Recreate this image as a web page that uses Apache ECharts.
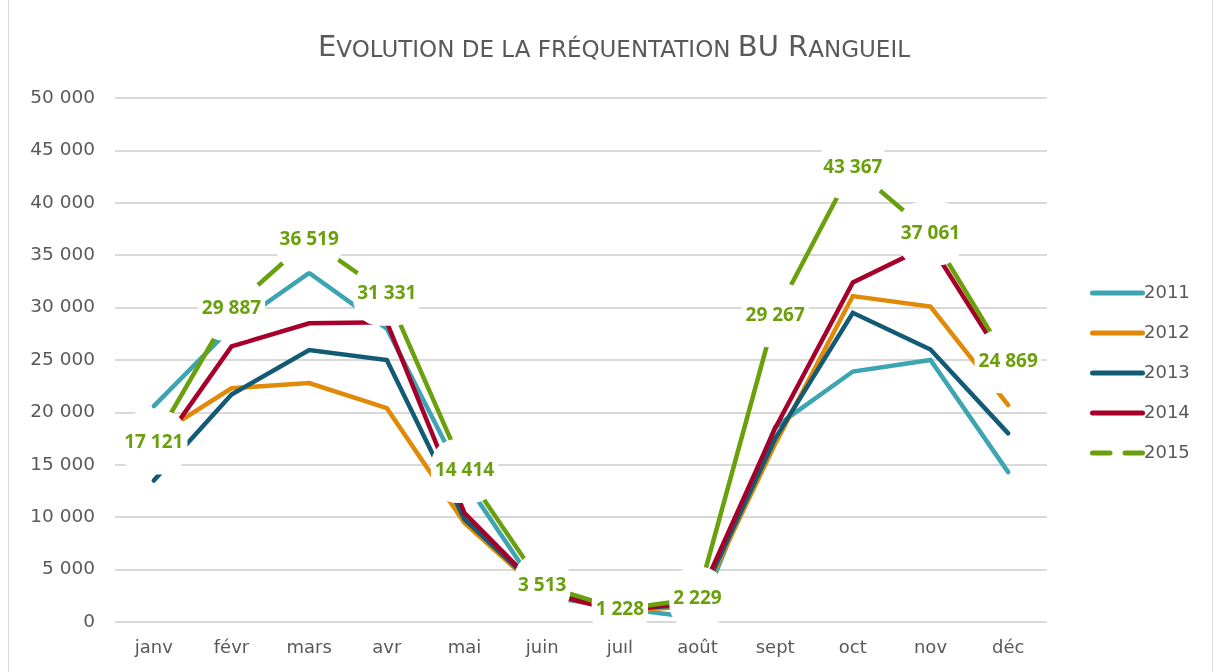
<!DOCTYPE html>
<html>
<head>
<meta charset="utf-8">
<script src="https://cdn.jsdelivr.net/npm/echarts@6/dist/echarts.min.js"></script>
<style>
html,body{margin:0;padding:0;background:#fff;}
#c{width:1218px;height:672px;}
</style>
</head>
<body>
<div id="c"></div>
<script>
const months = ['janv','févr','mars','avr','mai','juin','juil','août','sept','oct','nov','déc'];
const seriesNames = ['2011','2012','2013','2014','2015'];
const v2011 = [20600, 28100, 33300, 28000, 13500, 2500, 1300, 400, 18600, 23900, 25000, 14300];
const v2012 = [17600, 22300, 22800, 20400, 9450, 2800, 1100, 1500, 17000, 31100, 30100, 20700];
const v2013 = [13500, 21700, 25950, 25000, 9800, 2900, 1200, 1700, 17500, 29500, 26000, 18000];
const v2014 = [15800, 26300, 28500, 28600, 10400, 2900, 1000, 2000, 18500, 32400, 36000, 24300];
const v2015 = [17121, 29887, 36519, 31331, 14414, 3513, 1228, 2229, 29267, 43367, 37061, 24869];
const yMin = 0, yMax = 50000, yStep = 5000;

const colors = ['#3DA4B2', '#E08A07', '#135B74', '#A6002A', '#6AA00C'];
const allValues = [v2011, v2012, v2013, v2014, v2015];
const fmt = v => String(v).replace(/\B(?=(\d{3})+(?!\d))/g, ' ');
const FONT = 'DejaVu Sans';

const series = allValues.map((vals, i) => {
  const last = i === 4;
  return {
    name: seriesNames[i],
    type: 'line',
    data: vals,
    z: last ? 5 : 2,
    symbol: last ? 'circle' : 'none',
    symbolSize: 1,
    showSymbol: last,
    itemStyle: { color: colors[i] },
    lineStyle: { color: colors[i], width: 4.5, cap: 'round', join: 'miter' },
    emphasis: { disabled: true },
    label: last ? {
      show: true,
      position: 'inside',
      formatter: p => fmt(p.value),
      color: '#6AA00C',
      fontFamily: 'Open Sans',
      fontWeight: 'bold',
      fontSize: 19,
      lineHeight: 20,
      backgroundColor: '#ffffff',
      padding: [22, 4],
      borderRadius: 26
    } : { show: false }
  };
});

const solidIcon = 'path://M2.5,0H52.5A2.5,2.5,0,0,1,52.5,5H2.5A2.5,2.5,0,0,1,2.5,0Z';
const dashIcon = 'path://M2.5,0H20A2.5,2.5,0,0,1,20,5H2.5A2.5,2.5,0,0,1,2.5,0Z M35,0H52.5A2.5,2.5,0,0,1,52.5,5H35A2.5,2.5,0,0,1,35,0Z';

const chart = echarts.init(document.getElementById('c'), null, { renderer: 'canvas' });
chart.setOption({
  animation: false,
  backgroundColor: '#ffffff',
  title: {
    text: '{a|E}{b|VOLUTION DE LA FRÉQUENTATION }{a|BU R}{b|ANGUEIL}',
    left: 609,
    textAlign: 'center',
    top: 29,
    textStyle: {
      fontWeight: 'normal',
      rich: {
        a: { fontFamily: FONT, fontSize: 29, fontWeight: 'normal', color: '#595959', verticalAlign: 'bottom' },
        b: { fontFamily: FONT, fontSize: 23, fontWeight: 'normal', color: '#595959', verticalAlign: 'bottom' }
      }
    }
  },
  graphic: [
    { type: 'line', shape: { x1: 8.5, y1: 0, x2: 8.5, y2: 672 }, style: { stroke: '#D9D9D9', lineWidth: 1 } },
    { type: 'line', shape: { x1: 1212.5, y1: 0, x2: 1212.5, y2: 672 }, style: { stroke: '#D9D9D9', lineWidth: 1 } }
  ],
  legend: {
    orient: 'vertical',
    left: 1085,
    top: 278,
    itemWidth: 55,
    itemHeight: 5,
    itemGap: 20,
    textStyle: { fontFamily: FONT, fontSize: 18, color: '#595959', lineHeight: 20, padding: [0, 0, 0, -6] },
    data: seriesNames.map((n, i) => ({ name: n, icon: i === 4 ? dashIcon : solidIcon, itemStyle: { color: colors[i] } }))
  },
  grid: { left: 115, right: 171, top: 98, bottom: 50, containLabel: false },
  xAxis: {
    type: 'category',
    data: months,
    boundaryGap: true,
    axisLine: { show: false },
    axisTick: { show: false },
    axisLabel: { fontFamily: FONT, fontSize: 18, color: '#595959', margin: 17 }
  },
  yAxis: {
    type: 'value',
    min: yMin, max: yMax, interval: yStep,
    axisLine: { show: false },
    axisTick: { show: false },
    axisLabel: { fontFamily: FONT, fontSize: 18.5, color: '#595959', margin: 20, formatter: v => fmt(v) },
    splitLine: { lineStyle: { color: '#D9D9D9', width: 2 } }
  },
  series: series
});
</script>
</body>
</html>
